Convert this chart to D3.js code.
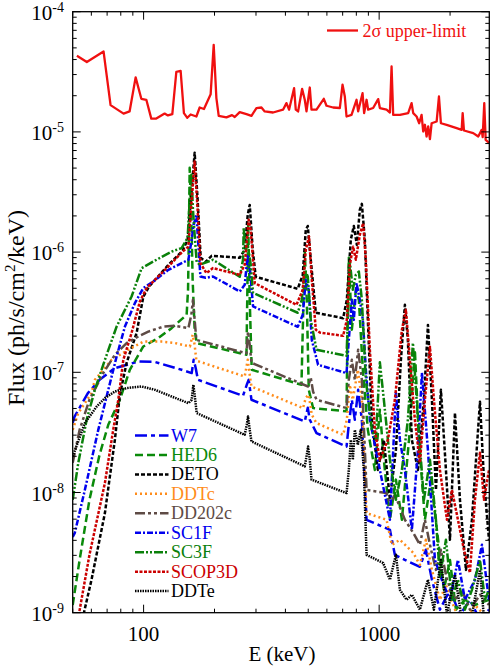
<!DOCTYPE html>
<html><head><meta charset="utf-8">
<script src="https://cdn.jsdelivr.net/npm/d3@7/dist/d3.min.js"></script>
<style>body{margin:0;background:#fff}svg{display:block}</style>
</head><body>
<script>
// ---------- data (E in keV, flux in ph/s/cm^2/keV) ----------
const xTickLabels = [100, 1000];
const yTickExps = [-9, -8, -7, -6, -5, -4];

const upperLimit = [[52.1,4.30e-5],[57.4,3.81e-5],[67.6,4.67e-5],[72.4,1.67e-5],[82.2,1.42e-5],[87.2,1.48e-5],[92.5,2.84e-5],[97.8,1.885e-5],[102.7,1.85e-5],[107.8,1.29e-5],[113.2,1.29e-5],[122.8,1.42e-5],[126.8,1.37e-5],[132.4,1.406e-5],[137.7,3.16e-5],[143.6,3.22e-5],[148.3,1.434e-5],[153.3,1.31e-5],[158.4,1.396e-5],[167.5,1.343e-5],[173,1.596e-5],[180.4,1.55e-5],[192.6,2.06e-5],[198.4,5.30e-5],[203.7,1.91e-5],[208.4,1.36e-5],[224.7,1.32e-5],[237.3,1.38e-5],[243.7,1.33e-5],[255.9,1.46e-5],[273.3,1.406e-5],[287,1.36e-5],[301.3,1.58e-5],[316.4,1.596e-5],[326.7,1.48e-5],[354.4,1.45e-5],[390.8,1.53e-5],[404.1,1.736e-5],[414.5,1.53e-5],[435.3,2.31e-5],[442.6,1.53e-5],[452.7,1.48e-5],[470.8,2.28e-5],[483.3,1.85e-5],[491.5,1.48e-5],[507.6,2.34e-5],[516.1,1.53e-5],[542,1.53e-5],[582.1,1.885e-5],[597.7,1.65e-5],[637.7,1.596e-5],[680.8,1.58e-5],[699.1,2.47e-5],[714.9,1.97e-5],[727,1.343e-5],[763.3,1.385e-5],[801.7,1.85e-5],[814.2,1.48e-5],[850.1,2.10e-5],[863.5,1.434e-5],[884.2,1.85e-5],[898,1.53e-5],[943,1.58e-5],[990.4,1.875e-5],[1007,1.58e-5],[1075,1.53e-5],[1111,1.45e-5],[1129,3.50e-5],[1147,1.385e-5],[1225,1.385e-5],[1328,1.434e-5],[1373,1.736e-5],[1395,1.434e-5],[1442,1.343e-5],[1479,1.18e-5],[1514,1.385e-5],[1538,1.008e-5],[1564,1.146e-5],[1590,9.16e-6],[1615,1.11e-5],[1643,8.71e-6],[1670,1.18e-5],[1754,1.22e-5],[1794,1.97e-5],[1829,1.18e-5],[1934,1.146e-5],[2133,1.075e-5],[2240,1.04e-5],[2262,1.434e-5],[2291,1.027e-5],[2508,9.77e-6],[2635,9.16e-6],[2724,1.04e-5],[2751,9.05e-6],[2794,1.736e-5],[2833,8.59e-6],[2935,8.07e-6]];

const W7 = [[50,3.80e-8],[50.9,4.28e-8],[58.0,6.71e-8],[65.0,8.66e-8],[75.3,1.08e-7],[95.0,1.23e-7],[111.7,1.22e-7],[145.0,1.05e-7],[160.0,9.85e-8],[163.1,1.27e-7],[166.3,1.09e-7],[170.1,8.66e-8],[264.2,6.37e-8],[274.1,7.87e-8],[279.4,8.66e-8],[287.0,5.91e-8],[483.3,3.90e-8],[497.7,5.07e-8],[507.6,4.03e-8],[542.0,3.12e-8],[727.0,2.41e-8],[743.4,3.66e-8],[765.6,5.91e-8],[788.3,4.03e-8],[814.3,7.15e-8],[844.4,4.03e-8],[884.2,5.93e-9],[1111,4.89e-9],[1166,3.03e-9],[1286,2.75e-9],[1489,2.41e-9],[1579,3.34e-9],[1675,1.88e-9],[1811,1.06e-9],[1998,1.55e-9],[2203,9.6e-10],[2429,1.28e-9],[2679,8.7e-10],[2926,1.06e-9]];

const HED6 = [[50,1.16e-9],[53.5,2.75e-9],[58.9,8.70e-9],[65.0,2.06e-8],[70.8,3.66e-8],[79.3,5.91e-8],[87.4,1.05e-7],[99.7,1.64e-7],[115.5,1.93e-7],[131.5,2.33e-7],[152.3,3.01e-7],[154.4,4.86e-7],[155.3,1.045e-6],[156.9,5.03e-6],[159.5,1.86e-6],[161.5,5.88e-7],[164.7,2.26e-7],[168.0,1.75e-7],[273.3,1.40e-7],[275.4,4.01e-7],[278.0,1.69e-6],[282.2,4.01e-7],[287.7,1.05e-7],[467.9,7.87e-8],[473.9,2.26e-7],[483.3,1.0e-6],[492.9,4.01e-7],[502.5,7.15e-8],[524.2,5.04e-8],[727.0,4.74e-8],[736.2,4.01e-7],[743.4,8.97e-7],[765.6,2.26e-7],[796.2,4.86e-7],[819.9,4.01e-7],[852.6,1.05e-7],[895.4,3.32e-8],[958.8,1.54e-8],[1007,4.88e-8],[1047,1.87e-8],[1111,5.93e-9],[1178,1.28e-8],[1249,5.93e-9],[1350,3.32e-8],[1418,1.54e-7],[1475,2.74e-8],[1564,5.93e-9],[1659,1.28e-8],[1759,4.89e-9],[1884,1.55e-9],[1998,2.75e-9],[2118,1.06e-9],[2313,1.28e-9],[2551,1.16e-9],[2926,1.28e-9]];

const DETO = [[54.9,8.7e-10],[60.1,1.88e-9],[68.5,6.74e-9],[75.5,2.74e-8],[79.3,6.50e-8],[84.7,1.20e-7],[93.4,2.13e-7],[99.7,4.25e-7],[105.3,5.14e-7],[127.4,7.84e-7],[146.4,1.025e-6],[153.8,1.27e-6],[160.0,3.30e-6],[164.7,6.70e-6],[169.6,2.72e-6],[174.7,8.97e-7],[183.5,8.30e-7],[194.5,9.32e-7],[255.9,8.97e-7],[268.7,1.045e-6],[276.7,2.04e-6],[282.2,2.47e-6],[290.6,1.045e-6],[299.2,6.23e-7],[451.3,4.95e-7],[473.9,6.47e-7],[488.1,1.53e-6],[497.7,1.65e-6],[512.5,8.63e-7],[538.3,3.13e-7],[703.1,2.82e-7],[729.1,4.01e-7],[758.0,1.27e-6],[780.6,1.65e-6],[803.9,1.15e-6],[827.9,2.25e-6],[844.4,2.52e-6],[869.5,1.27e-6],[895.4,2.73e-7],[931.1,4.03e-8],[987.4,1.54e-8],[1047,2.74e-8],[1111,8.70e-9],[1178,2.26e-8],[1237,1.27e-7],[1286,3.64e-7],[1324,1.86e-7],[1377,2.74e-8],[1461,1.54e-8],[1549,5.91e-8],[1611,2.48e-7],[1675,5.91e-8],[1742,1.05e-8],[1829,7.15e-8],[1921,1.54e-8],[1998,4.04e-9],[2098,4.60e-8],[2203,8.70e-9],[2336,2.27e-9],[2477,5.93e-9],[2679,5.68e-8],[2786,1.28e-8],[2926,4.04e-9]];

const DDTc = [[50,3.32e-8],[52.8,4.58e-8],[60.1,6.71e-8],[62.1,8.66e-8],[73.1,1.27e-7],[86.1,1.54e-7],[99.7,1.80e-7],[119.3,1.80e-7],[135.8,1.75e-7],[157.3,1.64e-7],[161.5,2.05e-7],[164.7,1.69e-7],[167.5,1.25e-7],[268.7,9.23e-8],[276.7,1.27e-7],[282.2,9.53e-8],[287.0,7.62e-8],[475.3,5.04e-8],[488.1,6.14e-8],[502.5,6.50e-8],[517.6,4.43e-8],[542.0,3.78e-8],[703.1,3.02e-8],[729.1,4.03e-8],[750.7,7.87e-8],[773,5.91e-8],[811.9,1.05e-7],[844.4,5.91e-8],[884.2,6.74e-9],[1075,5.93e-9],[1132,3.67e-9],[1225,4.04e-9],[1395,3.15e-9],[1489,2.5e-9],[1579,4.04e-9],[1675,2.27e-9],[1811,1.28e-9],[1921,1.70e-9],[2098,1.06e-9],[2313,8.7e-10],[2551,1.16e-9],[2926,8.7e-10]];

const DD202c = [[50,1.77e-8],[53.5,3.32e-8],[58.9,5.91e-8],[67.4,9.85e-8],[75.5,1.40e-7],[84.7,1.75e-7],[95.0,1.99e-7],[104.7,2.18e-7],[121.3,2.40e-7],[135.8,2.44e-7],[154.9,2.33e-7],[159.5,3.01e-7],[162.0,4.01e-7],[164.7,2.73e-7],[167.5,1.86e-7],[273.3,1.44e-7],[277.5,2.18e-7],[282.2,1.69e-7],[287.0,1.20e-7],[499.2,7.62e-8],[512.5,9.0e-8],[524.2,6.88e-8],[542.0,5.91e-8],[727.0,5.04e-8],[743.4,8.66e-8],[765.6,1.27e-7],[788.3,8.66e-8],[814.3,1.54e-7],[844.4,8.66e-8],[884.2,1.05e-8],[1075,9.89e-9],[1111,7.9e-9],[1166,9.6e-9],[1286,5.93e-9],[1395,4.62e-9],[1489,3.67e-9],[1564,5.93e-9],[1643,3.67e-9],[1742,2.27e-9],[1829,3.34e-9],[1940,1.88e-9],[2098,1.28e-9],[2246,1.55e-9],[2429,1.06e-9],[2679,1.41e-9],[2926,1.16e-9]];

const SC1F = [[50,4.28e-9],[51.05,4.62e-9],[56.3,1.05e-8],[64.2,3.32e-8],[70.8,7.15e-8],[76.8,1.35e-7],[83.3,2.40e-7],[91.8,3.76e-7],[99.7,5.02e-7],[109.9,5.69e-7],[127.4,7.12e-7],[154.9,8.63e-7],[160.0,1.27e-6],[163.1,1.69e-6],[167.5,2.04e-6],[171.3,1.045e-6],[174.2,6.27e-7],[183.5,6.11e-7],[197.0,6.27e-7],[255.9,4.70e-7],[268.7,5.35e-7],[276.7,9.5e-7],[282.2,7.59e-7],[291.5,3.53e-7],[451.3,2.39e-7],[473.9,3.01e-7],[488.1,5.88e-7],[502.5,4.86e-7],[517.6,1.86e-7],[550.6,1.154e-7],[727.0,9.85e-8],[743.4,1.86e-7],[765.6,4.01e-7],[780.6,2.73e-7],[801.7,5.52e-7],[827.9,4.01e-7],[852.6,2.73e-7],[878,1.05e-7],[913.1,4.03e-8],[1007,1.54e-8],[1111,5.93e-9],[1178,6.75e-8],[1225,2.74e-8],[1286,1.54e-8],[1377,4.89e-9],[1461,2.26e-8],[1519,9.9e-8],[1611,2.26e-8],[1725,2.75e-9],[1865,1.77e-9],[1998,1.28e-9],[2160,2.75e-9],[2313,1.28e-9],[2551,1.88e-9],[2732,3.67e-9],[2926,1.28e-9]];

const SC3F = [[50,8.70e-9],[52.8,1.76e-8],[57.3,4.03e-8],[62.1,7.15e-8],[68.5,1.27e-7],[76.8,2.40e-7],[88.9,4.27e-7],[98.1,7.36e-7],[109.9,8.35e-7],[131.5,1.01e-6],[145.0,1.08e-6],[153.8,1.315e-6],[156.9,2.72e-6],[159.5,4.40e-6],[162.0,2.25e-6],[164.7,1.39e-6],[168.0,8.30e-7],[173.0,7.84e-7],[197.0,8.63e-7],[255.9,6.23e-7],[264.2,8.63e-7],[266.1,1.58e-6],[271.4,1.045e-6],[276.7,1.15e-6],[285.0,7.84e-7],[291.5,4.58e-7],[451.3,3.13e-7],[469.3,4.01e-7],[483.3,7.12e-7],[497.7,6.27e-7],[512.5,2.73e-7],[542.0,1.54e-7],[727.0,1.37e-7],[736.2,2.73e-7],[750.7,8.30e-7],[773,4.86e-7],[796.2,6.47e-7],[819.9,6.9e-7],[844.4,4.01e-7],[878.0,8.66e-8],[931.1,3.32e-8],[968.3,2.74e-8],[1007,1.21e-7],[1047,5.91e-8],[1111,1.87e-8],[1178,8.70e-9],[1249,1.54e-8],[1324,4.03e-8],[1391,1.76e-7],[1461,4.03e-8],[1549,8.70e-9],[1643,1.87e-8],[1742,5.93e-9],[1811,1.99e-9],[1921,4.04e-9],[2037,1.28e-9],[2160,1.88e-9],[2313,1.06e-9],[2477,1.55e-9],[2679,2.75e-9],[2813,1.28e-9],[2926,1.55e-9]];

const SCOP3D = [[52.6,8.7e-10],[58.9,3.03e-9],[68.5,1.20e-8],[74.3,3.32e-8],[78.1,5.91e-8],[82.0,1.27e-7],[88.9,2.12e-7],[96.4,3.88e-7],[103.0,5.02e-7],[127.4,7.59e-7],[145.0,9.92e-7],[154.9,1.11e-6],[160.0,2.72e-6],[164.7,5.67e-6],[169.6,2.25e-6],[174.2,8.1e-7],[184.7,6.69e-7],[197.0,7.36e-7],[255.9,6.47e-7],[268.7,7.84e-7],[279.4,1.86e-6],[285.0,1.53e-6],[296.4,5.52e-7],[445.6,3.64e-7],[473.9,4.86e-7],[488.1,1.045e-6],[504.0,1.35e-6],[517.6,5.88e-7],[538.3,2.26e-7],[559.8,2.14e-7],[703.1,2.01e-7],[729.1,2.73e-7],[750.7,7.84e-7],[775.3,1.11e-6],[796.2,8.63e-7],[827.9,1.39e-6],[855.1,1.74e-6],[878.0,8.63e-7],[913.1,1.54e-7],[958.8,3.32e-8],[1007,1.87e-8],[1089,2.74e-8],[1166,5.91e-8],[1249,2.26e-7],[1299,3.31e-7],[1350,1.27e-7],[1418,4.03e-8],[1489,1.77e-8],[1564,5.91e-8],[1643,1.63e-7],[1708,5.91e-8],[1811,1.54e-8],[1940,5.93e-9],[2037,1.05e-8],[2160,5.93e-9],[2291,3.34e-9],[2429,2.15e-9],[2551,8.70e-9],[2679,2.14e-8],[2786,8.70e-9],[2926,1.54e-8]];

const DDTe = [[50,1.99e-8],[56.3,3.78e-8],[63.2,5.19e-8],[68.5,6.10e-8],[75.5,6.92e-8],[84.7,7.39e-8],[98.1,7.62e-8],[111.7,7.15e-8],[131.5,6.29e-8],[154.9,5.54e-8],[160.0,5.91e-8],[162.6,7.87e-8],[164.7,6.50e-8],[168.0,4.58e-8],[268.7,3.02e-8],[274.1,3.66e-8],[277.5,4.29e-8],[282.2,3.32e-8],[287.0,2.66e-8],[483.3,1.65e-8],[492.9,2.06e-8],[499.2,2.41e-8],[507.6,1.87e-8],[516.1,1.28e-8],[727.0,9.89e-9],[743.4,1.54e-8],[758.0,2.74e-8],[773,1.87e-8],[788.3,3.32e-8],[811.9,2.49e-8],[836.0,3.32e-8],[861,1.54e-8],[884.2,3.03e-9],[1040,2.59e-9],[1111,1.88e-9],[1178,3.03e-9],[1225,1.55e-9],[1308,1.28e-9],[1377,1.41e-9],[1489,1.06e-9],[1611,1.88e-9],[1708,1.06e-9],[1829,2.75e-9],[1940,9.6e-10],[2098,2.07e-9],[2246,8.7e-10],[2477,9.6e-10],[2679,2.27e-9],[2813,7.2e-10],[2926,8.7e-10]];

const modelNames = ["W7","HED6","DETO","DDTc","DD202c","SC1F","SC3F","SCOP3D","DDTe"];
const modelData = [W7, HED6, DETO, DDTc, DD202c, SC1F, SC3F, SCOP3D, DDTe];
const modelColors = ["#0000ee","#0a8a0a","#000000","#ff8c1a","#5e4b45","#0000ee","#0a800a","#cc0000","#000000"];
const modelDash = ["12,4,4,4","8,4","4,2","2,3","10,3,3,3,3,3","6,2,2,2","9,2,2,2,2,2","3,1.5","1.5,1"];

// ---------- drawing ----------
const FONT = "Liberation Serif";
const W = 491, H = 668;
const L = 72.7, R = 489.3, T = 11.7, B = 612.7;
const svg = d3.select("body").append("svg").attr("width", W).attr("height", H);
const x = d3.scaleLog().domain([50, 2935]).range([L, R]);
const y = d3.scaleLog().domain([1e-9, 1e-4]).range([B, T]);

svg.append("defs").append("clipPath").attr("id","clip")
  .append("rect").attr("x",L).attr("y",T).attr("width",R-L).attr("height",B-T);

const line = d3.line().x(d => x(d[0])).y(d => y(d[1]));
const g = svg.append("g").attr("clip-path","url(#clip)");

modelData.forEach((data, i) => {
  g.append("path").datum(data).attr("d", line)
    .attr("fill","none").attr("stroke", modelColors[i])
    .attr("stroke-width", 2.5).attr("stroke-dasharray", modelDash[i])
    .attr("stroke-linejoin","round");
});
g.append("path").datum(upperLimit).attr("d", line)
  .attr("fill","none").attr("stroke","#f01010").attr("stroke-width",2.3).attr("stroke-linejoin","round");

// frame
svg.append("rect").attr("x",L).attr("y",T).attr("width",R-L).attr("height",B-T)
  .attr("fill","none").attr("stroke","#000").attr("stroke-width",1.3);

// ticks
const ax = svg.append("g").attr("stroke","#000").attr("stroke-width",1);
const xMinor = [];
[10, 100, 1000].forEach(d => { for (let k = 1; k < 10; k++) { const v = d*k; if (v >= 50 && v <= 2935) xMinor.push(v); } });
xMinor.forEach(v => {
  const major = xTickLabels.includes(v);
  const len = major ? 8 : 4;
  ax.append("line").attr("x1",x(v)).attr("x2",x(v)).attr("y1",B).attr("y2",B-len);
  ax.append("line").attr("x1",x(v)).attr("x2",x(v)).attr("y1",T).attr("y2",T+len);
});
const yMinor = [];
yTickExps.forEach(e => { for (let k = 1; k < 10; k++) { const v = k*Math.pow(10,e); if (v <= 1.0001e-4) yMinor.push({v, major: k===1}); } });
yMinor.forEach(o => {
  const len = o.major ? 8 : 4;
  ax.append("line").attr("x1",L).attr("x2",L+len).attr("y1",y(o.v)).attr("y2",y(o.v));
  ax.append("line").attr("x1",R).attr("x2",R-len).attr("y1",y(o.v)).attr("y2",y(o.v));
});

function txt(sel){ return sel.append("text").attr("font-family", FONT); }

// tick labels
xTickLabels.forEach(v => {
  txt(svg).attr("x",x(v)).attr("y",641).attr("text-anchor","middle")
    .attr("font-size",21).text(v);
});
yTickExps.forEach(e => {
  const t = txt(svg).attr("x",64).attr("y",y(Math.pow(10,e))+8).attr("text-anchor","end").attr("font-size",21);
  t.append("tspan").text("10");
  t.append("tspan").attr("font-size",14).attr("dy",-8).text("-" + Math.abs(e));
});

// axis titles
txt(svg).attr("x",282).attr("y",661).attr("text-anchor","middle").attr("font-size",21).text("E (keV)");
const yt = txt(svg).attr("transform","translate(24,308) rotate(-90)").attr("text-anchor","middle").attr("font-size",24);
yt.append("tspan").text("Flux (ph/s/cm");
yt.append("tspan").attr("font-size",15).attr("dy",-9).text("2");
yt.append("tspan").attr("dy",9).text("/keV)");

// upper-limit legend
svg.append("line").attr("x1",327).attr("x2",358).attr("y1",30.5).attr("y2",30.5).attr("stroke","#f01010").attr("stroke-width",2.3);
txt(svg).attr("x",362.5).attr("y",36.5).attr("font-size",18).attr("fill","#f01010").text("2σ upper-limit");

// model legend
modelNames.forEach((n, i) => {
  const yy = 435.5 + i*19.45;
  svg.append("line").attr("x1",135).attr("x2",168.5).attr("y1",yy).attr("y2",yy)
    .attr("stroke",modelColors[i]).attr("stroke-width",2.5).attr("stroke-dasharray",modelDash[i]);
  txt(svg).attr("x",171).attr("y",yy+6).attr("font-size",18).attr("fill",modelColors[i]).text(n);
});
</script>
</body></html>
